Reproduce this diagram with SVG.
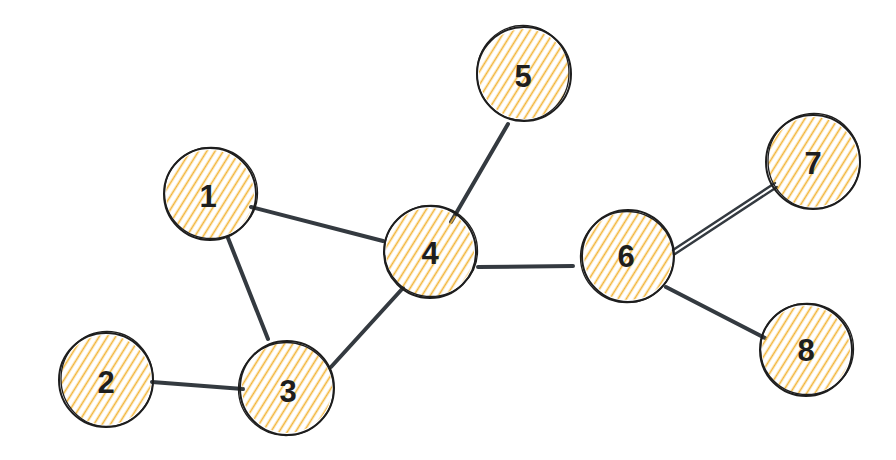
<svg xmlns="http://www.w3.org/2000/svg" width="896" height="460" viewBox="0 0 896 460">
<style>
.edge{stroke:#343a40;stroke-width:4;stroke-linecap:round;fill:none}
.edge2{stroke:#343a40;stroke-width:2.4;stroke-linecap:round;fill:none}
.fill{fill:url(#hach);stroke:none}
.ring{fill:none;stroke:#1e1e1e;stroke-width:2}
.ring2{fill:none;stroke:#1e1e1e;stroke-width:1.3}
.lbl{font-family:"Liberation Sans",Arial,sans-serif;font-size:31px;font-weight:bold;fill:#1e1e1e;text-anchor:middle;dominant-baseline:central}
</style>
<defs>
<pattern id="hach" patternUnits="userSpaceOnUse" width="7" height="7" patternTransform="rotate(-58)">
<line x1="0" y1="3.5" x2="7" y2="3.5" stroke="#f2b537" stroke-width="1.7"/>
</pattern>
</defs>
<rect width="896" height="460" fill="#ffffff"/>
<g id="connectors">
<line class="edge" x1="251" y1="207" x2="383" y2="241"/>
<line class="edge" x1="228" y1="238" x2="268" y2="339"/>
<line class="edge" x1="152" y1="382" x2="243" y2="389"/>
<line class="edge" x1="331" y1="367" x2="403" y2="288"/>
<line class="edge" x1="451" y1="222" x2="508" y2="124"/>
<line class="edge" x1="478" y1="267" x2="573" y2="266"/>
<line class="edge2" x1="673" y1="250" x2="775" y2="183"/>
<line class="edge2" x1="675" y1="254" x2="777" y2="187"/>
<line class="edge" x1="666" y1="287" x2="765" y2="338"/>
</g>
<g id="node1">
<circle class="fill" cx="210" cy="194" r="44"/>
<circle class="ring" cx="210" cy="194" r="46"/>
<ellipse class="ring2" cx="211" cy="193" rx="46.5" ry="45.5"/>
<text class="lbl" x="208" y="196">1</text>
</g>
<g id="node2">
<circle class="fill" cx="106" cy="380" r="45"/>
<circle class="ring" cx="106" cy="380" r="47"/>
<ellipse class="ring2" cx="107" cy="379" rx="46" ry="47.5"/>
<text class="lbl" x="106" y="382">2</text>
</g>
<g id="node3">
<circle class="fill" cx="287" cy="388" r="45"/>
<circle class="ring" cx="287" cy="388" r="47"/>
<ellipse class="ring2" cx="286" cy="389" rx="47.5" ry="46.5"/>
<text class="lbl" x="288" y="391">3</text>
</g>
<g id="node4">
<circle class="fill" cx="430" cy="252" r="44"/>
<circle class="ring" cx="430" cy="252" r="46"/>
<ellipse class="ring2" cx="431" cy="251" rx="46.5" ry="45.5"/>
<text class="lbl" x="430" y="253">4</text>
</g>
<g id="node5">
<circle class="fill" cx="524" cy="74" r="45"/>
<circle class="ring" cx="524" cy="74" r="47"/>
<ellipse class="ring2" cx="523" cy="73" rx="46" ry="47.5"/>
<text class="lbl" x="523" y="76">5</text>
</g>
<g id="node6">
<circle class="fill" cx="628" cy="256" r="44"/>
<circle class="ring" cx="628" cy="256" r="46"/>
<ellipse class="ring2" cx="627" cy="257" rx="46.5" ry="45.5"/>
<text class="lbl" x="626" y="256">6</text>
</g>
<g id="node7">
<circle class="fill" cx="813" cy="162" r="45"/>
<circle class="ring" cx="813" cy="162" r="47"/>
<ellipse class="ring2" cx="814" cy="161" rx="46" ry="47.5"/>
<text class="lbl" x="813" y="163">7</text>
</g>
<g id="node8">
<circle class="fill" cx="806" cy="350" r="44"/>
<circle class="ring" cx="806" cy="350" r="46"/>
<ellipse class="ring2" cx="807" cy="349" rx="46.5" ry="45.5"/>
<text class="lbl" x="806" y="350">8</text>
</g>
</svg>
